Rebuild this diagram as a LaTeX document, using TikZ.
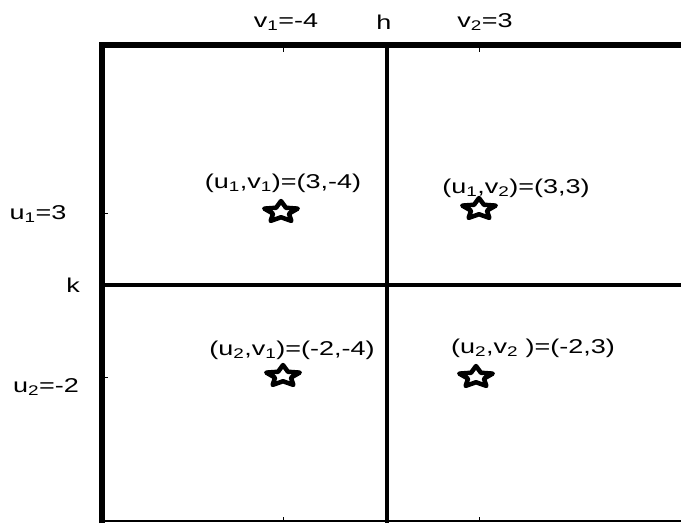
\documentclass[tikz,border=0pt]{standalone}
\usepackage{fontspec}
\setmainfont[FakeStretch=1.35]{Liberation Sans}
\usepackage{tikz}
\usetikzlibrary{shapes.geometric}
\newcommand{\lo}[1]{\textsubscript{#1}}

\begin{document}
\begin{tikzpicture}[x=1pt, y=-1pt, font=\fontsize{20}{24}\selectfont,
    lbl/.style={inner sep=0pt, anchor=base},
    pointstar/.style={star, star points=5, star point ratio=2.1, minimum size=22pt,
      inner sep=0pt, draw, line width=4.5pt, line join=round, xscale=1.6}]
    \useasboundingbox (0,0) rectangle (681,523);

    % frame and dividing lines
    \coordinate (frameTL) at (102,45);
    \coordinate (frameTR) at (681,45);
    \coordinate (frameBL) at (102,523);
    \coordinate (hTop) at (387,45);
    \coordinate (hBot) at (387,523);
    \coordinate (kLeft) at (102,285);
    \coordinate (kRight) at (681,285);
    \coordinate (baseL) at (102,521);
    \coordinate (baseR) at (681,521);
    \draw[line width=6pt, line join=miter] (frameBL) -- (frameTL) -- (frameTR);
    \draw[line width=4pt] (hTop) -- (hBot);
    \draw[line width=4pt] (kLeft) -- (kRight);
    \draw[line width=1.5pt] (baseL) -- (baseR);

    % small ticks
    \foreach \x in {283,479} {
      \draw[line width=0.8pt] (\x,48) -- (\x,52);
      \draw[line width=0.8pt] (\x,517) -- (\x,521);
    }
    \foreach \y in {213,377} {
      \draw[line width=0.8pt] (105,\y) -- (108,\y);
    }

    % column labels
    \node[lbl] (v1lab) at (286,27) {v\lo{1}=-4};
    \node[lbl] (hlab) at (384,29) {h};
    \node[lbl] (v2lab) at (485,27) {v\lo{2}=3};

    % row labels
    \node[lbl] (u1lab) at (38,219) {u\lo{1}=3};
    \node[lbl] (klab) at (73,292) {k};
    \node[lbl] (u2lab) at (46,392) {u\lo{2}=-2};

    % cell values
    \node[lbl] (c11) at (283,188) {(u\lo{1},v\lo{1})=(3,-4)};
    \node[lbl] (c12) at (516,193) {(u\lo{1},v\lo{2})=(3,3)};
    \node[lbl] (c21) at (292,355) {(u\lo{2},v\lo{1})=(-2,-4)};
    \node[lbl] (c22) at (533,353) {(u\lo{2},v\lo{2} )=(-2,3)};

    % stars
    \node[pointstar] (s11) at (281,212) {};
    \node[pointstar] (s12) at (479,209) {};
    \node[pointstar] (s21) at (283,376) {};
    \node[pointstar] (s22) at (476,377) {};
\end{tikzpicture}
\end{document}
